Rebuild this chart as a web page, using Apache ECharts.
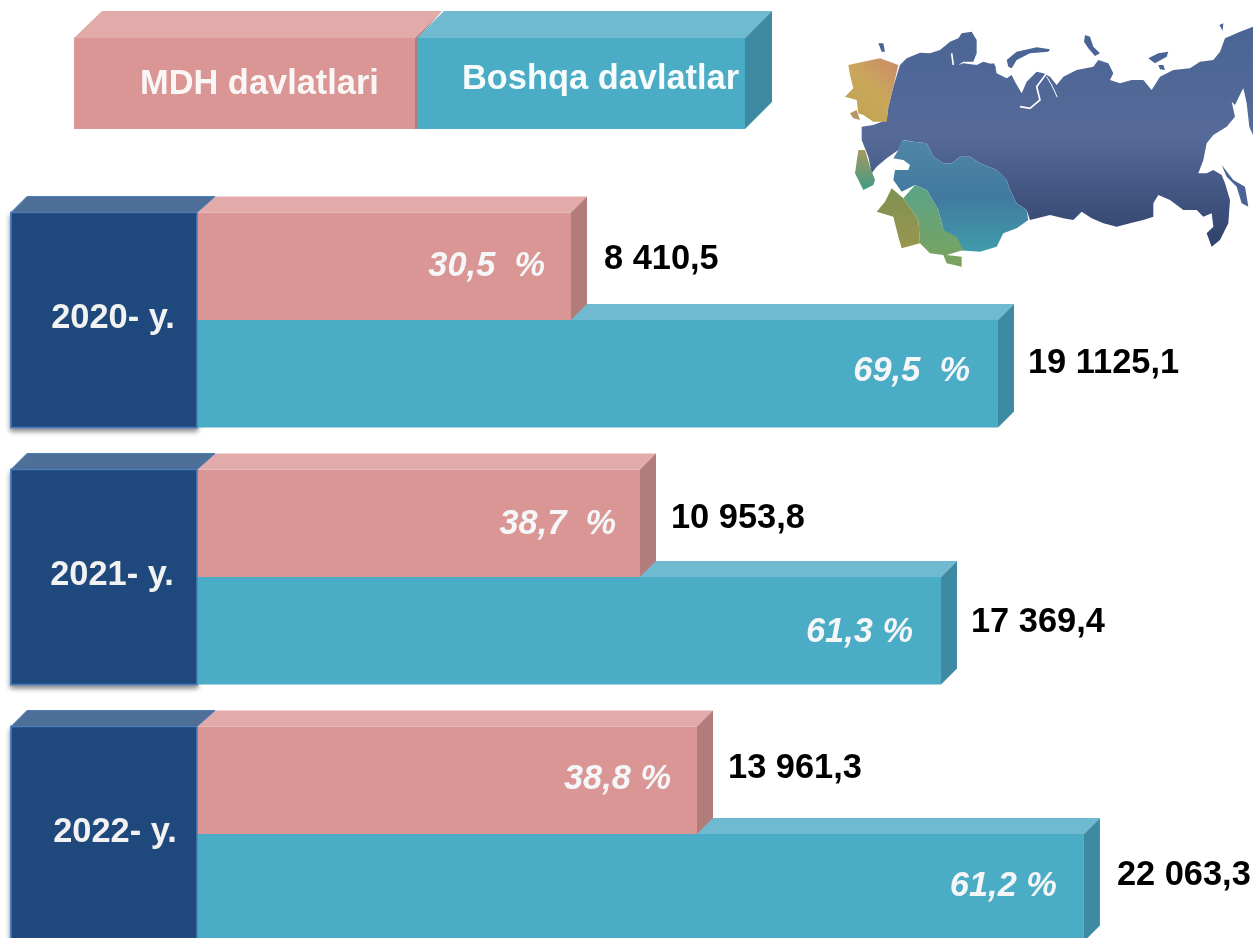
<!DOCTYPE html>
<html>
<head>
<meta charset="utf-8">
<style>html,body{margin:0;padding:0;background:#fff;overflow:hidden}#c{width:1253px;height:938px}</style>
<script src="https://cdn.jsdelivr.net/npm/echarts@6/dist/echarts.min.js"></script>
</head>
<body>
<div id="c"></div>
<script>
// ---- data ----
const years = ['2020- y.', '2021- y.', '2022- y.'];
const seriesNames = ['MDH davlatlari', 'Boshqa davlatlar'];
// Bar lengths as drawn (the source bars are not exactly to scale with their printed values)
const mdhBars = [9303, 11020, 12438];
const otherBars = [19925, 18507, 22063];
// Printed labels, verbatim
const mdhValueLabels = ['8 410,5', '10 953,8', '13 961,3'];
const otherValueLabels = ['19 1125,1', '17 369,4', '22 063,3'];
const mdhPercentLabels = ['30,5  %', '38,7  %', '38,8 %'];
const otherPercentLabels = ['69,5  %', '61,3 %', '61,2 %'];

// ---- styling / layout constants ----
const FONT = '"Liberation Sans", Arial, sans-serif';
const FS = '34.4px ';
const DEPTH = 16;
const BAR_H = 107.5;
const PAL = {
  pink: {front: '#D99694', top: '#E2ABA9', side: '#B27C7A'},
  teal: {front: '#4BACC6', top: '#70BAD1', side: '#3E8AA3'},
  navy: {front: '#1F497D', top: '#4E7098', line: '#4A7EBB'}
};
const layout = {
  pink: {valDy: [-7, -5, -12], valDx: [33, 31, 31], pctDy: [0, 1, -1], pctDx: [-26, -24, -26]},
  teal: {valDy: [-10, -8, -12], valDx: [30, 30, 33], pctDy: [-2, 2, -1], pctDx: [-28, -28, -27]},
  yearDx: [9, 8, 11], yearDy: [-1, -1, -1]
};

function poly(points, fill, extra) {
  return Object.assign({type: 'polygon', shape: {points}, style: {fill}}, extra || {});
}

function barRenderer(pal, isUpper, valueLabels, percentLabels, lay) {
  return function (params, api) {
    const i = api.value(1);
    const start = api.coord([0, i]);
    const end = api.coord([api.value(0), i]);
    const x0 = start[0], x1 = end[0], cy = start[1];
    const yT = isUpper ? cy - BAR_H : cy;
    const yB = isUpper ? cy : cy + BAR_H;
    const children = [
      {type: 'rect', shape: {x: x0, y: yT, width: x1 - x0, height: yB - yT}, style: {fill: pal.front}},
      poly([[x0, yT], [x1, yT], [x1 + DEPTH, yT - DEPTH], [x0 + DEPTH, yT - DEPTH]], pal.top),
      poly([[x1, yT], [x1 + DEPTH, yT - DEPTH], [x1 + DEPTH, yB - DEPTH], [x1, yB]], pal.side),
      {type: 'text', style: {
        text: percentLabels[i], x: x1 + lay.pctDx[i], y: (yT + yB) / 2 + lay.pctDy[i],
        align: 'right', verticalAlign: 'middle', fill: '#F4F6F8',
        font: 'italic bold ' + FS + FONT
      }},
      {type: 'text', style: {
        text: valueLabels[i], x: x1 + lay.valDx[i], y: (yT + yB) / 2 + lay.valDy[i],
        align: 'left', verticalAlign: 'middle', fill: '#000',
        font: 'bold ' + FS + FONT
      }}
    ];
    return {type: 'group', children};
  };
}

function yearBackRenderer(params, api) {
  const p = api.coord([0, api.value(0)]);
  const x1 = p[0], cy = p[1], x0 = x1 - 186;
  return {type: 'rect', shape: {x: x0, y: cy - BAR_H, width: 186, height: 2 * BAR_H},
    style: {fill: PAL.navy.front, stroke: PAL.navy.line, lineWidth: 1.5,
            shadowBlur: 5, shadowOffsetX: 0, shadowOffsetY: 3, shadowColor: 'rgba(0,0,0,0.45)'}};
}

function yearFrontRenderer(params, api) {
  const i = api.value(0);
  const p = api.coord([0, i]);
  const x1 = p[0], cy = p[1], x0 = x1 - 186;
  const yT = cy - BAR_H;
  return {type: 'group', children: [
    {type: 'rect', shape: {x: x0, y: yT, width: 186, height: 2 * BAR_H},
     style: {fill: PAL.navy.front, stroke: PAL.navy.line, lineWidth: 1.5}},
    poly([[x0, yT], [x1, yT], [x1 + 18, yT - DEPTH], [x0 + 16, yT - DEPTH]], PAL.navy.top,
      {style: {fill: PAL.navy.top, stroke: PAL.navy.line, lineWidth: 1}}),
    {type: 'text', style: {
      text: years[i], x: (x0 + x1) / 2 + layout.yearDx[i], y: cy + layout.yearDy[i],
      align: 'center', verticalAlign: 'middle', fill: '#F2F2F2', font: 'bold ' + FS + FONT
    }}
  ]};
}

// ---- decorative map (coordinates are 3x-space outline, scaled down by the group) ----
function grad(x0, y0, x1, y1, a, b, c) {
  const stops = c ? [{offset: 0, color: a}, {offset: .5, color: b}, {offset: 1, color: c}]
                  : [{offset: 0, color: a}, {offset: 1, color: b}];
  return new echarts.graphic.LinearGradient(x0, y0, x1, y1, stops);
}
const mainland = [[210,165],[230,145],[270,128],[300,130],[330,120],[360,95],[385,85],[395,70],[425,65],[440,90],[440,130],[430,155],[400,155],[385,165],[400,160],[440,165],[460,155],[495,165],[500,190],[530,205],[545,195],[555,215],[575,250],[590,215],[620,185],[640,190],[660,200],[680,225],[700,200],[740,180],[790,170],[805,150],[835,160],[850,190],[840,210],[870,220],[905,210],[940,210],[965,240],[990,200],[1030,180],[1080,175],[1110,155],[1150,150],[1170,125],[1185,85],[1230,65],[1269,50],[1269,375],[1258,350],[1250,280],[1240,235],[1232,250],[1215,285],[1205,275],[1215,320],[1190,350],[1150,375],[1130,400],[1120,450],[1105,490],[1130,490],[1150,480],[1175,495],[1185,520],[1200,570],[1195,640],[1170,690],[1145,710],[1130,670],[1150,650],[1145,610],[1120,620],[1100,600],[1060,600],[1020,570],[985,555],[970,580],[970,620],[940,630],[900,640],[860,650],[820,640],[785,625],[755,605],[730,630],[700,625],[660,615],[600,630],[590,600],[560,580],[540,540],[530,510],[500,480],[450,460],[420,440],[390,440],[365,460],[340,460],[310,440],[290,400],[250,395],[220,390],[205,420],[170,445],[140,470],[125,490],[115,440],[95,390],[95,350],[130,345],[170,330],[175,290],[190,230]];
const islands = [
  [[530,150],[560,125],[620,112],[660,118],[655,125],[600,130],[560,150],[545,175],[535,170]],
  [[765,75],[780,80],[790,110],[810,130],[795,138],[775,115],[762,95]],
  [[955,145],[985,130],[1015,125],[1010,140],[975,160]],
  [[985,165],[1000,165],[1005,180],[990,178]],
  [[1168,45],[1180,40],[1178,62]],
  [[1175,465],[1210,510],[1245,530],[1255,590],[1235,580],[1220,530],[1190,500]],
  [[145,100],[160,100],[165,125],[155,125]],
  [[478,162],[492,160],[497,175],[482,175]]
];
const mapParts = [
  poly(mainland, grad(0,0,0,1,'#4A6595','#566A99','#30426B')),
  ...islands.map(p => poly(p, '#4A6595')),
  poly([[55,165],[100,155],[150,145],[205,165],[190,230],[175,290],[170,335],[130,335],[100,315],[85,310],[80,270],[45,260],[70,235],[60,195]],
       grad(1,0,0,1,'#CC8A6A','#C9A85A','#BFA050')),
  poly([[60,310],[80,300],[90,330],[70,325]], '#B5966A'),
  poly([[85,420],[105,420],[120,470],[135,510],[130,525],[100,540],[75,490]], grad(0,0,0,1,'#A59A5E','#3F9A88')),
  poly([[215,390],[250,395],[290,400],[310,440],[340,460],[365,460],[390,440],[420,440],[450,460],[500,480],[530,510],[540,540],[560,580],[590,600],[595,630],[560,655],[520,670],[500,710],[450,725],[380,720],[340,660],[325,600],[290,540],[255,525],[215,545],[190,510],[195,480],[235,480],[240,465],[220,450],[190,445],[205,420]],
       grad(0,0,0,1,'#4F87A8','#42799F','#3F9CAB')),
  poly([[255,525],[290,540],[325,600],[340,660],[380,680],[400,720],[350,735],[395,740],[395,770],[350,760],[340,735],[300,730],[270,700],[265,630],[220,565]],
       grad(0,0,0,1,'#5BA389','#7BA35C')),
  poly([[185,535],[220,565],[265,630],[270,700],[215,715],[205,680],[190,620],[140,605],[165,575]], grad(0,0,0,1,'#7F9152','#99964E')),
  {type: 'polyline', shape: {points: [[570,290],[600,295],[630,270],[620,230],[650,190]]}, style: {stroke: '#fff', lineWidth: 5, fill: 'none'}},
  {type: 'polyline', shape: {points: [[650,200],[665,225],[682,262]]}, style: {stroke: '#fff', lineWidth: 3, fill: 'none'}},
  {type: 'polyline', shape: {points: [[365,130],[370,165]]}, style: {stroke: '#fff', lineWidth: 5, fill: 'none'}}
];

// ---- legend (3D boxes, same look as the bars) ----
const legendParts = [
  {type: 'rect', shape: {x: 74, y: 38, width: 341, height: 91}, style: {fill: PAL.pink.front}},
  poly([[74,38],[102,11],[442,11],[415,38]], PAL.pink.top),
  poly([[415,38],[442,11],[418,38],[418,129],[415,129]], PAL.pink.side),
  {type: 'rect', shape: {x: 417, y: 38, width: 328, height: 91}, style: {fill: PAL.teal.front}},
  poly([[417,38],[444,11],[772,11],[745,38]], PAL.teal.top),
  poly([[745,38],[772,11],[772,102],[745,129]], PAL.teal.side),
  {type: 'text', style: {text: seriesNames[0], x: 140, y: 85, verticalAlign: 'middle', fill: '#FBF6F6', font: 'bold ' + FS + FONT}},
  {type: 'text', style: {text: seriesNames[1], x: 462, y: 80, verticalAlign: 'middle', fill: '#F6FBFC', font: 'bold ' + FS + FONT}}
];

const chart = echarts.init(document.getElementById('c'), null, {renderer: 'canvas'});
chart.setOption({
  animation: false,
  backgroundColor: '#fff',
  grid: {left: 197, right: 0, top: 320, height: 514, containLabel: false},
  xAxis: {type: 'value', min: 0, max: 26269, show: false},
  yAxis: {type: 'category', data: years, inverse: true, show: false, boundaryGap: false},
  series: [
    {name: 'yearBack', type: 'custom', clip: false, renderItem: yearBackRenderer,
     encode: {y: 0}, data: years.map((y, i) => [i])},
    {name: seriesNames[1], type: 'custom', clip: false,
     renderItem: barRenderer(PAL.teal, false, otherValueLabels, otherPercentLabels, layout.teal),
     encode: {x: 0, y: 1}, data: otherBars.map((v, i) => [v, i])},
    {name: seriesNames[0], type: 'custom', clip: false,
     renderItem: barRenderer(PAL.pink, true, mdhValueLabels, mdhPercentLabels, layout.pink),
     encode: {x: 0, y: 1}, data: mdhBars.map((v, i) => [v, i])},
    {name: 'years', type: 'custom', clip: false, renderItem: yearFrontRenderer,
     encode: {y: 0}, data: years.map((y, i) => [i])}
  ],
  graphic: {elements: [
    {type: 'group', x: 830, y: 10, scaleX: 1/3, scaleY: 1/3, children: mapParts},
    {type: 'group', x: 0, y: 0, children: legendParts}
  ]}
});
</script>
</body>
</html>
